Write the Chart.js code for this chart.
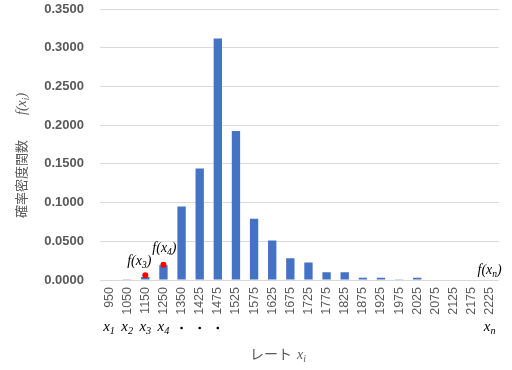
<!DOCTYPE html>
<html>
<head>
<meta charset="utf-8">
<script src="https://cdn.jsdelivr.net/npm/chart.js@4.4.0/dist/chart.umd.min.js"></script>
<style>
	html, body { margin: 0; padding: 0; background: #fff; }
</style>
</head>
<body>
<div style="width:512px;height:370px">
	<canvas id="rateChart" width="512" height="370"></canvas>
</div>
<script>
// categories (rate) and probability density values
var rates = ['950','1050','1150','1250','1350','1425','1475','1525','1575','1625','1675',
	'1725','1775','1825','1875','1925','1975','2025','2075','2125','2175','2225'];
var density = [0, 0.001, 0.004, 0.019, 0.095, 0.144, 0.312, 0.1925, 0.079, 0.051, 0.028,
	0.0225, 0.010, 0.010, 0.003, 0.003, 0.001, 0.003, 0, 0, 0, 0];
var marked = [null, null, 0.006, 0.0198, null, null, null, null, null, null, null,
	null, null, null, null, null, null, null, null, null, null, null];
// symbols written under the tick labels ('_' = next char subscript)
var symbols = ['x_1','x_2','x_3','x_4','・','・','・','','','','',
	'','','','','','','','','','','x_n'];
// point annotations: [category index, text, value at baseline, x shift]
var notes = [[2, 'f(x_3)', 0.0194, -6], [3, 'f(x_4)', 0.036, 1], [21, 'f(x_n)', 0.008, 12]];

var serif = '"Liberation Serif", "DejaVu Serif", serif';

// draws italic text with one-char subscripts after '_'
function mathText(ctx, str, x, y, size, align) {
	var segs = [];
	for (var i = 0; i < str.length; i++) {
		if (str[i] === '_') { segs.push({ t: str[i + 1], sub: true }); i++; }
		else segs.push({ t: str[i], sub: false });
	}
	var w = 0;
	segs.forEach(function (s) {
		ctx.font = 'italic ' + (s.sub ? size * 0.68 : size) + 'px ' + serif;
		s.w = ctx.measureText(s.t).width;
		w += s.w;
	});
	var cx = align === 'center' ? x - w / 2 : (align === 'right' ? x - w : x);
	ctx.textAlign = 'left';
	ctx.textBaseline = 'alphabetic';
	segs.forEach(function (s) {
		ctx.font = 'italic ' + (s.sub ? size * 0.68 : size) + 'px ' + serif;
		ctx.fillText(s.t, cx, s.sub ? y + size * 0.22 : y);
		cx += s.w;
	});
}

var labelsPlugin = {
	id: 'labels',
	afterDraw: function (chart) {
		var ctx = chart.ctx, xs = chart.scales.x, ys = chart.scales.y;
		ctx.save();
		ctx.fillStyle = '#000';
		symbols.forEach(function (s, i) {
			if (!s) return;
			var x = xs.getPixelForValue(i);
			if (s === '・') {
				ctx.beginPath();
				ctx.arc(x, 328, 1.3, 0, Math.PI * 2);
				ctx.fill();
			} else {
				mathText(ctx, s, x, 331, 15, 'center');
			}
		});
		notes.forEach(function (n) {
			var x = xs.getPixelForValue(n[0]) + n[3];
			var y = ys.getPixelForValue(n[2]);
			mathText(ctx, n[1], x, y, 14, n[0] === 21 ? 'right' : 'center');
		});
		// x axis title
		ctx.fillStyle = '#595959';
		ctx.font = '14px "Noto Sans CJK JP"';
		ctx.textAlign = 'left';
		ctx.textBaseline = 'alphabetic';
		ctx.fillText('レート', 250, 359);
		mathText(ctx, 'x_i', 297, 359, 14, 'left');
		// y axis title
		ctx.translate(26, 218);
		ctx.rotate(-Math.PI / 2);
		ctx.font = '13px "Noto Sans CJK JP"';
		ctx.textAlign = 'left';
		ctx.fillText('確率密度関数', 0, 0);
		mathText(ctx, 'f(x_i)', 103, 0, 14, 'left');
		ctx.restore();
	}
};

var ctx = document.getElementById('rateChart').getContext('2d');
var rateChart = new Chart(ctx, {
	type: 'bar',
	data: {
		labels: rates,
		datasets: [
			{
				type: 'line',
				data: marked,
				showLine: false,
				pointRadius: 3,
				pointBackgroundColor: '#ff0000',
				pointBorderWidth: 0,
				order: 0
			},
			{
				data: density,
				backgroundColor: '#4472C4',
				barPercentage: 0.46,
				categoryPercentage: 1,
				order: 1
			}
		]
	},
	plugins: [labelsPlugin],
	options: {
		responsive: false,
		animation: false,
		layout: { padding: { top: 0, right: 12, bottom: 0, left: 0 } },
		plugins: { legend: { display: false }, tooltip: { enabled: false } },
		scales: {
			x: {
				grid: { display: false, drawTicks: false },
				border: { display: false },
				ticks: {
					minRotation: 90, maxRotation: 90, padding: 7, autoSkip: false,
					color: '#595959', font: { family: '"Liberation Sans", Arial', size: 12.5 }
				},
				afterFit: function (s) { s.height = 90; }
			},
			y: {
				min: 0, max: 0.35,
				grid: { color: '#d9d9d9', drawTicks: false },
				border: { display: false },
				ticks: {
					stepSize: 0.05, padding: 16,
					color: '#595959', font: { family: '"Liberation Sans", Arial', size: 13, weight: 'bold' },
					callback: function (v) { return v.toFixed(4); }
				},
				afterFit: function (s) { s.width = 100; s.paddingTop = 9; s.paddingBottom = 0; }
			}
		}
	}
});
</script>
</body>
</html>
